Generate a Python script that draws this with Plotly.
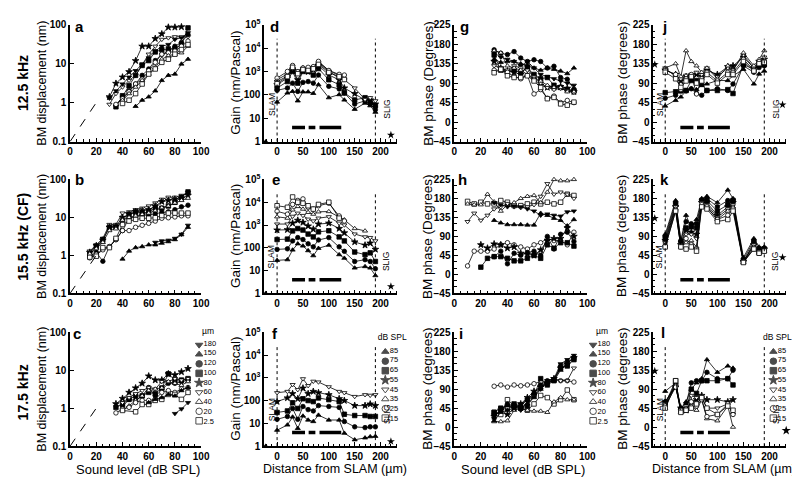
import plotly.graph_objects as go
from plotly.subplots import make_subplots

# ---------------- data ----------------
LEV_A = [30, 35, 40, 45, 50, 55, 60, 65, 70, 75, 80, 85, 90]
A_SER = {
    '80':  [1.4, 3.1, 4.5, 6.2, 11.9, 28, 28, 44, 58, 86, 86, 88, None],
    '60':  [0.9, 1.7, 2.5, 3.7, 5, 9, 17.5, 28, 42, 46, 49, 49, 49],
    '100': [None, 0.78, 1.5, 2.7, 5, 9, 12, 20, 23, 24, 24, 31, 83],
    '120': [None, 0.86, 1.4, 2, 3, 5, 7.3, 12, 17.5, 21, 28, 35, 56],
    '20':  [None, 0.9, 1.25, 1.9, 3, 4, 6.6, 10.8, 17.5, 19, 21, 28, 38],
    '40':  [None, None, 1.15, 1.7, 2.5, 3.7, 5.4, 8, 13, 16, 17.5, 19, 28],
    '2.5': [None, None, 0.95, 1.15, 1.7, 3, 5.4, 7.3, 10.8, 13, 17.5, 23, 31],
    '180': [1.3, 2, 3, 4.5, 6.6, 9.8, 14, 21, 28, 31, 42, 46, 62],
    '150': [None, None, None, None, 0.8, 1.15, 1.4, 2, 3.7, 5, 5.4, 9.8, 13],
}
LEV_B = [15, 20, 25, 30, 35, 40, 45, 50, 55, 60, 65, 70, 75, 80, 85, 90]
B_SER = {
    '60':  [1.3, 1.9, 2.8, 6.5, 6.5, 13, 14, 16, 17.5, 20, 24, 30, 34, 34, 38, 45],
    '100': [1.07, 1.7, 2.6, 5.5, 5.5, 8, 12, 14, 13, 14, 17.5, 17.5, 20, 25, 34, 47],
    '120': [0.96, 1.2, 0.7, 1.7, 2.6, 4.5, 9.5, 10.5, 11.5, 11.5, 12.5, 13.5, 14, 16, 19, 21],
    '20':  [0.86, 1.07, 1.4, 1.7, 2.6, 4.5, 4.5, 5.5, 6.2, 7, 8, 9.5, 9.8, 10.3, 11, 11],
    '2.5': [0.9, 0.95, 1.6, 1.6, 2.8, 6.5, 8, 8.9, 9.5, 9.5, 9.8, 11.2, 13, 13, 13, 13],
    '80':  [1.2, 1.8, 2.5, 5.5, 5.8, 10, 12, 14, 15, 16, 20, 26, 28, 30, 32, 38],
    '40':  [1.1, 1.5, 2.2, 4.5, 5, 8.5, 10, 11, 12, 13, 15, 18, 20, 24, 28, 32],
    '150': [None, None, None, None, None, 0.8, 1.3, 1.6, 1.7, 1.9, 1.9, 2.1, 2.3, 2.6, 3.5, 5.5],
    '180': [None, None, None, None, None, None, None, None, None, None, 2.2, 2.4, 2.5, 2.8, 3.6, 6.2],
}
LEV_C = [35, 40, 45, 50, 55, 60, 65, 70, 75, 80, 85, 90]
C_SER = {
    '80':  [1.3, 1.8, 2.6, 3.4, 4.5, 7, 5.5, 5.5, 8, 7.5, 9, 11],
    '100': [1.05, 1.3, 1.7, 2.1, 2.1, 2.6, 2.4, 3.4, 8, 5.5, 5.5, 6],
    '120': [None, 1.1, 1.7, 1.6, 2.1, 3.5, 2.1, 3, 4.5, 4.5, 5, 5.5],
    '60':  [None, 1.4, 1.9, 2.4, 2.9, 3.5, 3.2, 5, 5, 6, 5.5, 6],
    '40':  [None, 0.87, 1.15, 1.6, 2.1, 2.9, 3.2, 3.4, 5, 4.5, 4, 5],
    '20':  [0.75, 0.95, 1.05, 1.4, 1.6, 1.6, 1.7, 2.6, 2.9, 2.6, 3.2, 3.5],
    '2.5': [None, 0.87, None, 0.8, 1.25, 1.25, 1.6, 1.7, 2.3, 2.3, 1.7, 2.6],
    '150': [None, None, None, None, None, 1.4, 1.7, 1.9, 2.3, 2.1, 2.9, 3.5],
    '180': [None, None, None, None, None, None, None, None, None, 0.72, 0.95, 1.4],
}

DIST = [0, 20, 30, 40, 50, 60, 70, 80, 100, 120, 130, 150, 170, 180, 190]
D_SER = {
    '85': [49, 120, 140, 55, 134, 134, 115, 270, 75, 102, 60, 24, 44, 34, 18],
    '75': [155, 195, 316, 140, 340, 370, 316, 700, 230, 178, 120, 40, 55, 40, 23],
    '65': [195, 370, 1000, 316, 1000, 1000, 700, 1330, 440, 270, 120, 60, 75, 46, 34],
    '55': [270, 520, 1150, 440, 1070, 975, 1200, 1800, 700, 440, 195, 112, 60, 60, 40],
    '45': [370, 630, 1330, 600, 1330, 1330, 1470, 2300, 1000, 520, 440, 195, 63, 75, 55],
    '35': [440, 780, 1650, 1000, 1470, 1330, 1580, 2500, 1100, 700, 520, None, None, None, None],
    '25': [520, 1000, 1800, 975, 1400, 1500, 1600, 2700, 1100, 750, 700, None, None, None, None],
    '15': [300, 600, 1500, 800, 1200, 1100, 1300, 2000, 900, 600, 450, None, None, None, None],
}
E_SER = {
    '85': [28, 30, 80, 150, 120, 75, 45, 95, 130, 50, 35, 13, 15, 13, 6],
    '75': [85, 90, 200, 280, 230, 150, 110, 220, 280, 110, 70, 25, 30, 25, 12],
    '65': [230, 240, 550, 700, 600, 400, 300, 500, 560, 300, 200, 65, 50, 60, 25],
    '55': [600, 620, 1200, 1600, 1300, 900, 650, 1100, 1200, 700, 450, 180, 130, 160, 85],
    '45': [1100, 1100, 2400, 3300, 2600, 1800, 1500, 2000, 2300, 1200, 1000, 400, 300, 280, 200],
    '35': [2300, 2000, 4600, 6500, 5000, 3600, 3000, 3800, 3900, 2200, 1700, 700, 550, None, None],
    '25': [4000, 3000, 8000, 12000, 14000, 6000, 5000, 7000, 9000, 2500, 1500, None, None, None, None],
    '15': [7000, 6000, 17000, 10000, 9000, 7000, 5000, 8000, 10000, 2000, None, None, None, None, None],
}
F_SER = {
    '85': [5, 8.5, 19, 6, 21, 14, 12, 23, 14, 14, 3.7, 1.9, 2.3, 2.6, 2.7],
    '75': [15, 20, 45, 15, 55, 40, 35, 60, 55, 50, 12, 7, 6.5, 7, 7],
    '65': [30, 35, 80, 45, 120, 100, 90, 130, 110, 90, 25, 22, 22, 20, 20],
    '55': [90, 130, 200, 120, 350, 200, 250, 220, 180, 120, 100, 60, 60, 70, 60],
    '45': [220, 250, 500, 300, 900, 450, 700, 650, 400, 250, 220, 150, 180, 170, 180],
}

LEV_G = [30, 35, 40, 45, 50, 55, 60, 65, 70, 75, 80, 85, 90]
G_SER = {
    '150': [145, 138, 140, 140, 135, 130, 125, 120, 125, 122, 118, 112, 125],
    '120': [167, 159, 156, 163, 148, 140, 144, 140, 125, 129, 103, 99, 76],
    '180': [160, 150, 145, 140, 130, 140, 125, 110, 105, 100, 95, 90, 85],
    '100': [155, 120, 115, 120, 115, 125, 110, 100, 103, 85, 80, 75, 72],
    '80':  [140, 125, 118, 115, 110, 130, 100, 85, 80, 80, 82, 78, 70],
    '60':  [130, 125, 120, 130, 125, 120, 105, 90, 80, 75, 78, 72, 68],
    '40':  [165, 160, 130, 125, 120, 110, 100, 95, 85, 80, 80, 70, 70],
    '20':  [120, 120, 115, 105, 100, 108, 65, 75, 55, 60, 45, 50, 45],
    '2.5': [114, 122, 107, 103, 103, 107, 95, 80, 54, 57, 42, 39, 46],
}
LEV_H = [10, 15, 20, 25, 30, 35, 40, 45, 50, 55, 60, 65, 70, 75, 80, 85, 90]
H_SER = {
    '2.5': [173, 167, 171, 167, 167, 175, 171, 163, 163, 167, 171, 167, 171, 167, 171, 190, 187],
    '40':  [167, 165, 165, 190, 172, 150, 165, 170, 180, 185, 187, 170, 195, 225, 222, 222, 225],
    '60':  [125, 145, 128, 140, 155, 160, 168, 160, 158, 160, 165, 185, 215, 190, 195, 190, 180],
    '180': [None, None, None, None, 170, 165, 160, 162, 160, 155, 150, 140, 143, 140, 138, 148, 150],
    '150': [None, None, None, None, 128, 122, 118, 118, 118, 117, 117, 145, 140, 133, 128, 115, 130],
    '20':  [20, 55, 55, 55, 60, 70, 75, 70, 65, 60, 70, 75, 85, 80, 80, 70, 100],
    '100': [None, None, 17, 38, 42, 42, 38, 32, 32, 38, 45, 38, 70, 62, 75, 75, 67],
    '120': [None, None, None, None, 42, 55, 25, 50, 45, 52, 55, 45, 90, 60, 95, 100, 78],
    '80':  [None, None, 70, 62, 72, 70, 62, 65, 50, 48, 45, 58, 80, 85, 85, 110, 90],
}
LEV_I = [30, 35, 40, 45, 50, 55, 60, 65, 70, 75, 80, 85, 90]
I_SER = {
    '20':  [97, 100, 95, 100, 98, 100, 103, 108, 105, 112, 110, 110, 107],
    '2.5': [35, 30, 65, 50, 45, 40, 55, 75, 70, 55, 65, 88, 65],
    '40':  [13, 13, 15, 40, 45, 40, 38, 38, 35, 60, 70, 65, 65],
    '100': [35, 45, 45, 55, 45, 50, 75, 115, 100, 110, 140, 145, 160],
    '180': [20, 45, 50, 50, 40, 60, 75, 90, 110, 115, 150, 160, 170],
    '60':  [None, None, 45, 50, 55, 65, 75, 95, 110, 115, 110, 110, 140],
    '80':  [25, 40, 30, 45, 55, 70, 85, 95, 105, 115, 140, 150, 165],
    '120': [30, 40, 55, 50, 50, 65, 80, 100, 110, 112, 145, 155, 162],
    '150': [15, 35, 40, 45, 50, 55, 70, 90, 105, 110, 135, 150, 168],
}

J_SER = {
    '85': [37, 50, 58, 72, 77, 75, 85, 88, 96, 96, 107, 122, 88, 111, 118],
    '75': [55, 62, 73, 72, 77, 66, 62, 73, 77, 73, 88, 130, 115, 126, 130],
    '65': [68, 70, 72, 73, 96, 96, 87, 73, 73, 75, 66, 133, 122, 133, 133],
    '55': [120, 110, 95, 105, 100, 110, 105, 120, 110, 128, 130, 150, 125, 140, 145],
    '45': [125, 105, 100, 108, 110, 115, 110, 125, 105, 125, 120, 155, 125, 140, 150],
    '35': [125, 135, 105, 165, 140, 130, 115, 125, 100, 130, 120, 160, 130, 145, 165],
    '25': [120, 110, 75, 100, 110, 65, 100, 115, 95, 115, 115, 145, 120, 140, 140],
    '15': [115, 100, 80, 95, 105, 90, 95, 110, 90, 110, 110, 140, 118, 135, 138],
}
K_SER = {
    '85': [95, 175, 80, 140, 110, 130, 180, 185, 170, 200, 180, 40, 85, 65, 65],
    '75': [90, 170, 80, 125, 120, 120, 175, 180, 160, 175, 175, 35, 80, 60, 62],
    '65': [85, 165, 75, 110, 115, 110, 175, 175, 150, 165, 175, 30, 75, 55, 60],
    '55': [80, 160, 70, 105, 100, 95, 170, 170, 140, 160, 170, 30, 70, 55, 60],
    '45': [75, 160, 70, 95, 95, 85, 170, 165, 135, 155, 165, 30, 70, 55, 58],
    '35': [70, 155, 65, 75, 80, 65, 165, 160, 130, 150, 160, 28, 65, 50, 55],
    '25': [65, 150, 65, 85, 70, 60, 165, 160, 130, 140, 155, 30, 60, 50, 55],
    '15': [65, 150, 65, 60, 65, 55, 160, 155, 125, 130, 150, 28, 60, 50, 55],
}
DIST_L = [0, 20, 30, 40, 50, 60, 70, 80, 100, 120, 130]
L_SER = {
    '85': [85, 105, 45, 60, 90, 105, 115, 160, 130, 145, 140],
    '75': [60, 100, 45, 55, 105, 110, 110, 130, 115, 115, 135],
    '65': [55, 110, 40, 40, 90, 80, 110, 110, 110, 115, 100],
    '55': [60, 95, 45, 40, 60, 65, 75, 65, 65, 60, 65],
    '45': [55, 100, 40, 50, 75, 70, 70, 45, 45, 55, 30],
    '35': [45, 100, 35, 45, 50, 40, 65, 20, 15, 50, 0],
    '25': [50, 95, 40, 40, 60, 50, 65, 25, 30, 55, 30],
    '15': [45, 110, 35, 40, 45, 55, 70, 45, 30, 50, 40],
}

LEG_UM = ['180', '150', '120', '100', '80', '60', '40', '20', '2.5']
LEG_DB = ['85', '75', '65', '55', '45', '35', '25', '15']
BAR_SEGS = [(29, 54), (61, 74), (82, 124)]

# ---------------- styling ----------------
SYM_UM = {'180': ('triangle-down', 'black'), '150': ('triangle-up', 'black'),
          '120': ('circle', 'black'), '100': ('square', 'black'), '80': ('star', 'black'),
          '60': ('triangle-down', 'white'), '40': ('triangle-up', 'white'),
          '20': ('circle', 'white'), '2.5': ('square', 'white')}
SYM_DB = {'85': ('triangle-up', 'black'), '75': ('circle', 'black'), '65': ('square', 'black'),
          '55': ('star', 'black'), '45': ('triangle-down', 'white'), '35': ('triangle-up', 'white'),
          '25': ('circle', 'white'), '15': ('square', 'white')}

W, H = 800, 484
COLS_PX = [(60, 193), (257, 392), (450, 585), (652, 787)]
ROWS_PX = [(10, 130), (169, 286), (326, 443)]
FONT = 'Liberation Sans, Arial, sans-serif'
LEG_FS = 7.5
LEG_STEP = LEG_FS * 1.3   # plotly line spacing for multi-line text

fig = make_subplots(rows=3, cols=4)


def px_x(p):
    return p / W


def px_y(p):
    return 1 - p / H


def add_series(row, col, x, series, symmap):
    for key, ys in series.items():
        sym, fill = symmap[key]
        size = 5 if sym == 'star' else 4.5
        fig.add_trace(go.Scatter(
            x=x, y=ys, mode='lines+markers', connectgaps=True, cliponaxis=False,
            line=dict(color='black', width=0.8),
            marker=dict(symbol=sym, size=size, color=fill, line=dict(color='black', width=0.8)),
            showlegend=False, hoverinfo='skip'), row=row, col=col)


add_series(1, 1, LEV_A, A_SER, SYM_UM)
add_series(2, 1, LEV_B, B_SER, SYM_UM)
add_series(3, 1, LEV_C, C_SER, SYM_UM)
add_series(1, 2, DIST, D_SER, SYM_DB)
add_series(2, 2, DIST, E_SER, SYM_DB)
add_series(3, 2, DIST, F_SER, SYM_DB)
add_series(1, 3, LEV_G, G_SER, SYM_UM)
add_series(2, 3, LEV_H, H_SER, SYM_UM)
add_series(3, 3, LEV_I, I_SER, SYM_UM)
add_series(1, 4, DIST, J_SER, SYM_DB)
add_series(2, 4, DIST, K_SER, SYM_DB)
add_series(3, 4, DIST_L, L_SER, SYM_DB)

# dashed unity-slope lines
for r in (1, 2, 3):
    fig.add_trace(go.Scatter(x=[0, 20], y=[0.1, 1], mode='lines', showlegend=False,
                             line=dict(color='black', width=1, dash='dash'), hoverinfo='skip'),
                  row=r, col=1)

# lone stars / markers outside data
for r, ystar in zip((1, 2, 3), (1.9, 2.0, 1.6)):
    fig.add_trace(go.Scatter(x=[220], y=[ystar], mode='markers', cliponaxis=False, showlegend=False,
                             marker=dict(symbol='star', size=6, color='black')), row=r, col=2)
    fig.add_trace(go.Scatter(x=[-22], y=[1.05], mode='markers', cliponaxis=False, showlegend=False,
                             marker=dict(symbol='triangle-up', size=4, color='black')), row=r, col=2)
for r in (1, 2, 3):
    fig.add_trace(go.Scatter(x=[-20], y=[133], mode='markers', cliponaxis=False, showlegend=False,
                             marker=dict(symbol='star', size=6, color='black')), row=r, col=4)
for r in (1, 2):
    fig.add_trace(go.Scatter(x=[225], y=[40], mode='markers', cliponaxis=False, showlegend=False,
                             marker=dict(symbol='star', size=6, color='black')), row=r, col=4)


# ---------------- legends on a full-figure overlay axis (pixel coordinates) ----------------
def legend_block(sym_x, y0, keys, symmap, header, header_x, header_y, extra_star=None):
    ys = [y0 + LEG_STEP * i for i in range(len(keys))]
    syms = [symmap[k][0] for k in keys]
    fills = [symmap[k][1] for k in keys]
    sizes = [7 if s == 'star' else 6.5 for s in syms]
    fig.add_trace(go.Scatter(x=[sym_x] * len(keys), y=ys, mode='markers', xaxis='x13', yaxis='y13',
                             showlegend=False, hoverinfo='skip', cliponaxis=False,
                             marker=dict(symbol=syms, size=sizes, color=fills,
                                         line=dict(color='black', width=1))))
    ymid = (ys[0] + ys[-1]) / 2
    fig.add_trace(go.Scatter(x=[sym_x + 4.5], y=[ymid], mode='text', text=['<br>'.join(keys)],
                             textposition='middle right', xaxis='x13', yaxis='y13',
                             showlegend=False, hoverinfo='skip', cliponaxis=False,
                             textfont=dict(family=FONT, size=LEG_FS, color='black')))
    fig.add_trace(go.Scatter(x=[header_x], y=[header_y], mode='text', text=[header],
                             textposition='middle center', xaxis='x13', yaxis='y13',
                             showlegend=False, hoverinfo='skip', cliponaxis=False,
                             textfont=dict(family=FONT, size=8.5, color='black')))
    if extra_star:
        fig.add_trace(go.Scatter(x=[extra_star[0]], y=[extra_star[1]], mode='markers',
                                 xaxis='x13', yaxis='y13', showlegend=False, hoverinfo='skip',
                                 cliponaxis=False,
                                 marker=dict(symbol='star', size=7, color='black')))


legend_block(191, 339, LEG_UM, SYM_UM, 'µm', 200, 326)
legend_block(591, 339, LEG_UM, SYM_UM, 'µm', 600, 326)
legend_block(380, 346, LEG_DB, SYM_DB, 'dB SPL', 387, 332)
legend_block(774, 346, LEG_DB, SYM_DB, 'dB SPL', 778, 332, extra_star=(787, 427))

# ---------------- axes ----------------
tickfont = dict(family=FONT, size=10, color='black', weight='bold')
layout_upd = {}
for r in range(3):
    for c in range(4):
        n = r * 4 + c + 1
        xs = 'xaxis' if n == 1 else f'xaxis{n}'
        ys = 'yaxis' if n == 1 else f'yaxis{n}'
        xl, xr = COLS_PX[c]
        yt, yb = ROWS_PX[r]
        xa = dict(domain=[px_x(xl), px_x(xr)], showline=True, linewidth=1.5, linecolor='black',
                  ticks='inside', ticklen=4, tickwidth=1, tickcolor='black', showgrid=False,
                  zeroline=False, tickfont=tickfont, fixedrange=True)
        ya = dict(domain=[px_y(yb), px_y(yt)], showline=True, linewidth=1.5, linecolor='black',
                  ticks='inside', ticklen=4, tickwidth=1, tickcolor='black', showgrid=False,
                  zeroline=False, tickfont=tickfont, fixedrange=True)
        if c in (0, 2):
            xa.update(range=[0, 100], tickvals=[0, 20, 40, 60, 80, 100],
                      minor=dict(dtick=5, ticks='inside', ticklen=2.5, tickcolor='black'))
        else:
            xa.update(range=[-25, 232] if c == 1 else [-23, 232], tickvals=[0, 50, 100, 150, 200],
                      minor=dict(tick0=0, dtick=10, ticks='inside', ticklen=2.5, tickcolor='black'))
        if c == 0:
            ya.update(type='log', range=[-1, 2], tickvals=[0.1, 1, 10, 100],
                      ticktext=['0.1', '1', '10', '100'])
        elif c == 1:
            ya.update(type='log', range=[0, 5], tickvals=[1, 10, 100, 1000, 1e4, 1e5],
                      ticktext=['1', '10', '100', '10<sup>3</sup>', '10<sup>4</sup>', '10<sup>5</sup>'])
        else:
            ya.update(range=[-45, 225], tickvals=[-45, 0, 45, 90, 135, 180, 225],
                      minor=dict(tick0=-45, dtick=15, ticks='inside', ticklen=2.5, tickcolor='black'))
        layout_upd[xs] = xa
        layout_upd[ys] = ya
layout_upd['xaxis13'] = dict(domain=[0, 1], range=[0, W], visible=False, fixedrange=True,
                             anchor='y13')
layout_upd['yaxis13'] = dict(domain=[0, 1], range=[H, 0], visible=False, fixedrange=True,
                             anchor='x13')
fig.update_layout(**layout_upd)

# ---------------- shapes (SLAM / SLIG lines, bars) ----------------
shapes = []
annotations = []
for r in range(3):
    for c in (1, 3):
        n = r * 4 + c + 1
        xr = 'x' if n == 1 else f'x{n}'
        yr = ('y' if n == 1 else f'y{n}') + ' domain'
        for xv in (0, 190):
            shapes.append(dict(type='line', xref=xr, yref=yr, x0=xv, x1=xv, y0=0, y1=0.88,
                               line=dict(color='black', width=1, dash='dot')))
        for a, b in BAR_SEGS:
            shapes.append(dict(type='line', xref=xr, yref=yr, x0=a, x1=b, y0=0.12, y1=0.12,
                               line=dict(color='black', width=3.5)))
        annotations.append(dict(xref=xr, yref=yr, x=-11, y=0.2, text='SLAM', textangle=-90,
                                showarrow=False, font=dict(family=FONT, size=8.5, color='black')))
        annotations.append(dict(xref=xr, yref=yr, x=212, y=0.18, text='SLIG', textangle=-90,
                                showarrow=False, font=dict(family=FONT, size=8.5, color='black')))


def ann(x, y, text, size, bold=False, angle=0, xanchor='center', yanchor='middle'):
    annotations.append(dict(xref='paper', yref='paper', x=px_x(x), y=px_y(y), text=text,
                            textangle=angle, showarrow=False, xanchor=xanchor, yanchor=yanchor,
                            font=dict(family=FONT, size=size, color='black',
                                      weight='bold' if bold else 'normal')))


# panel letters
LETTERS = [('a', 70, 12), ('d', 268, 12), ('g', 460, 12), ('j', 663, 12),
           ('b', 70, 169), ('e', 269, 169), ('h', 458, 169), ('k', 663, 169),
           ('c', 67, 327), ('f', 268, 327), ('i', 457, 327), ('l', 662, 326)]
for t, x, y in LETTERS:
    ann(x, y, t, 15, bold=True)

# row labels
for t, y in (('12.5 kHz', 70), ('15.5 kHz (CF)', 228), ('17.5 kHz', 388)):
    ann(12, y, t, 14, bold=True, angle=-90)

# y-axis titles
for r, (yt, yb) in enumerate(ROWS_PX):
    yc = (yt + yb) / 2
    ann(32, yc, 'BM displacement (nm)', 12.5, angle=-90)
    ann(228, yc, 'Gain (nm/Pascal)', 13.5, angle=-90)
    ann(423, yc, 'BM phase (degrees)' if r == 2 else 'BM phase (Degrees)', 13.5, angle=-90)
    ann(620, yc, 'BM phase (degrees)', 13.5, angle=-90)

# x-axis titles
ann(129, 467, 'Sound level (dB SPL)', 13)
ann(329, 467, 'Distance from SLAM (µm)', 12.5)
ann(520, 467, 'Sound level (dB SPL)', 13)
ann(724, 467, 'Distance from SLAM (µm)', 12.5)

fig.update_layout(width=W, height=H, margin=dict(l=0, r=0, t=0, b=0),
                  paper_bgcolor='white', plot_bgcolor='rgba(0,0,0,0)', showlegend=False,
                  shapes=shapes, annotations=annotations)

fig.write_html('out.html')
